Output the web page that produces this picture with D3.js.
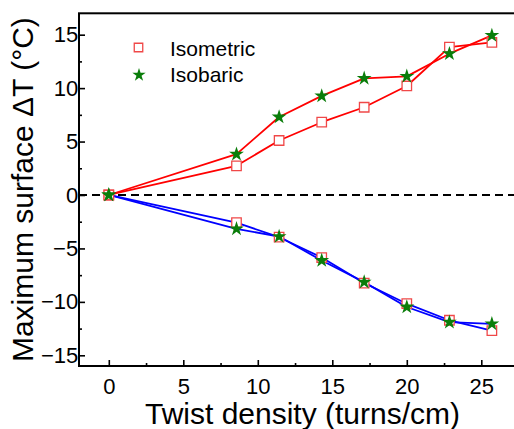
<!DOCTYPE html>
<html><head><meta charset="utf-8">
<script src="https://cdn.jsdelivr.net/npm/d3@7"></script>
<style>
html,body{margin:0;padding:0;background:#fff;}
svg{display:block;font-family:"Liberation Sans",Arial,sans-serif;}
</style></head>
<body>
<svg id="chart" width="514" height="429"></svg>
<script>
const twist = [0, 8.57, 11.43, 14.29, 17.14, 20, 22.86, 25.71];
const heatIsometric = [0, 2.73, 5.1, 6.81, 8.21, 10.2, 13.83, 14.27];
const heatIsobaric  = [0, 3.82, 7.3, 9.27, 10.91, 11.1, 13.22, 14.93];
const coolIsometric = [0, -2.58, -3.95, -5.85, -8.24, -10.17, -11.72, -12.69];
const coolIsobaric  = [0, -3.17, -3.89, -6.13, -8.15, -10.48, -11.9, -12.06];
const xTicks = [0, 5, 10, 15, 20, 25];
const yTicks = [-15, -10, -5, 0, 5, 10, 15];
const xMinor = [-2.5, 2.5, 7.5, 12.5, 17.5, 22.5, 27.5];
const yMinor = [-12.5, -7.5, -2.5, 2.5, 7.5, 12.5];
const legendLabels = ["Isometric", "Isobaric"];

const svg = d3.select("#chart");
const L = 79, R = 526, T = 13.3, B = 366;
const x = d3.scaleLinear().domain([-2, 28]).range([L, R]);
const y = d3.scaleLinear().domain([-16, 17]).range([B, T]);

// zero dashed line
svg.append("line").attr("x1", L).attr("x2", R).attr("y1", y(0)).attr("y2", y(0))
  .attr("stroke", "#000").attr("stroke-width", 2).attr("stroke-dasharray", "8,5");

// frame
svg.append("rect").attr("x", L).attr("y", T).attr("width", R - L).attr("height", B - T)
  .attr("fill", "none").attr("stroke", "#000").attr("stroke-width", 2);

// axes with inward ticks
const xAxis = d3.axisBottom(x).tickValues(xTicks).tickSize(-6).tickPadding(12).tickFormat(d3.format("d"));
const gx = svg.append("g").attr("transform", `translate(0,${B})`).call(xAxis);
const xAxisMinor = d3.axisBottom(x).tickValues(xMinor.filter(v => x(v) > L)).tickSize(-3).tickFormat("");
const gxm = svg.append("g").attr("transform", `translate(0,${B})`).call(xAxisMinor);
const yAxis = d3.axisLeft(y).tickValues(yTicks).tickSize(-6).tickPadding(3).tickFormat(d3.format("d"));
const gy = svg.append("g").attr("transform", `translate(${L},0)`).call(yAxis);
const yAxisMinor = d3.axisLeft(y).tickValues(yMinor).tickSize(-3).tickFormat("");
const gym = svg.append("g").attr("transform", `translate(${L},0)`).call(yAxisMinor);
[gx, gxm, gy, gym].forEach(g => {
  g.select(".domain").remove();
  g.selectAll(".tick line").attr("stroke", "#000").attr("stroke-width", 1.6);
  g.selectAll("text").attr("font-size", 22).attr("fill", "#000")
    .attr("font-family", "'Liberation Sans',Arial,sans-serif");
});
gy.selectAll("text").attr("dx", "0.1em");

// titles
svg.append("text").attr("x", (L + R) / 2).attr("y", 424).attr("text-anchor", "middle")
  .attr("font-size", 30).text("Twist density (turns/cm)");
svg.append("text").attr("transform", `translate(33,${(T + B) / 2}) rotate(-90)`)
  .attr("text-anchor", "middle").attr("font-size", 30).text("Maximum surface \u0394T (\u00B0C)");

// lines
const line = d3.line().x((d, i) => x(twist[i])).y(d => y(d));
const series = [
  {v: heatIsometric, c: "#ff0000"},
  {v: heatIsobaric, c: "#ff0000"},
  {v: coolIsometric, c: "#0000ff"},
  {v: coolIsobaric, c: "#0000ff"}
];
series.forEach(s => {
  svg.append("path").datum(s.v).attr("d", line).attr("fill", "none")
    .attr("stroke", s.c).attr("stroke-width", 1.8).attr("stroke-linejoin", "round");
});

const sq = d3.symbol().type(d3.symbolSquare).size(90);
const st = d3.symbol().type(d3.symbolStar).size(68);
[heatIsometric, coolIsometric].forEach(arr => {
  svg.append("g").selectAll("path").data(arr).join("path")
    .attr("d", sq).attr("transform", (d, i) => `translate(${x(twist[i])},${y(d)})`)
    .attr("fill", "#fff").attr("stroke", "#f04848").attr("stroke-width", 1.3);
});
[heatIsobaric, coolIsobaric].forEach(arr => {
  svg.append("g").selectAll("path").data(arr).join("path")
    .attr("d", st).attr("transform", (d, i) => `translate(${x(twist[i])},${y(d)})`)
    .attr("fill", "#0a7d0a").attr("stroke", "none");
});

// legend
const lg = svg.append("g");
lg.append("path").attr("d", d3.symbol().type(d3.symbolSquare).size(72)())
  .attr("transform", "translate(138.5,47.5)").attr("fill", "#fff").attr("stroke", "#f04848").attr("stroke-width", 1.3);
lg.append("path").attr("d", d3.symbol().type(d3.symbolStar).size(55)())
  .attr("transform", "translate(139,75)").attr("fill", "#0a7d0a");
lg.append("text").attr("x", 170).attr("y", 56).attr("font-size", 21).text(legendLabels[0]);
lg.append("text").attr("x", 170).attr("y", 82).attr("font-size", 21).text(legendLabels[1]);
</script>
</body></html>
